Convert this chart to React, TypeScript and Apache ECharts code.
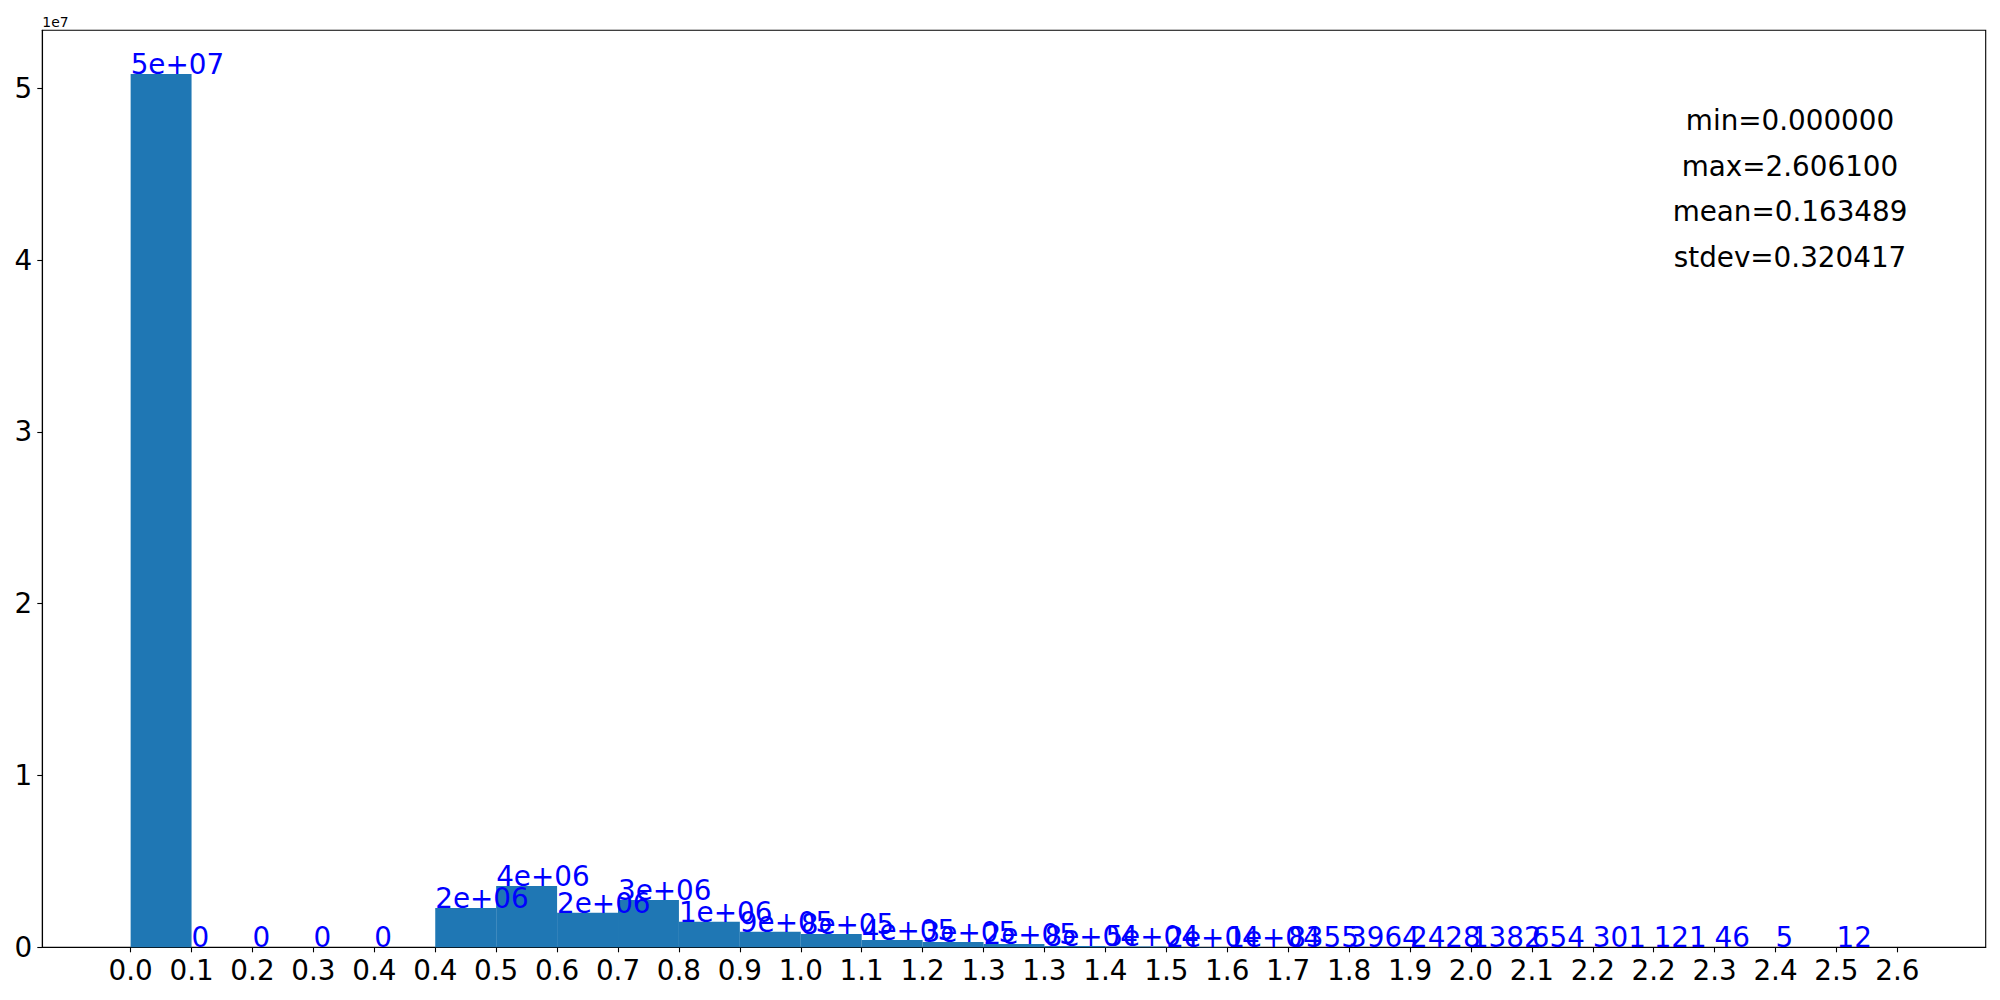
import { useEffect, useRef } from "react";
import * as echarts from "echarts";

// ---- data ----
const binCount = 29;
const dataMin = 0;
const dataMax = 2.6061;
const counts = [
  50830000, 0, 0, 0, 0, 2290000, 3570000, 2010000, 2750000, 1490000,
  900000, 770000, 430000, 310000, 190000, 80000, 50000, 20000, 10000, 8355,
  3964, 2428, 1382, 654, 301, 121, 46, 5, 12,
];
const yTicks = [0, 1e7, 2e7, 3e7, 4e7, 5e7];
const statLines = ["min=0.000000", "max=2.606100", "mean=0.163489", "stdev=0.320417"];
const offsetText = "1e7";

const FONT = "DejaVu Sans";
const FS = 27.8;

function fmtCount(v: number): string {
  if (v >= 1e4) {
    const [m, e] = v.toExponential(0).split("e");
    const sign = e[0];
    const d = e.slice(1).padStart(2, "0");
    return `${m}e${sign}${d}`;
  }
  return String(v);
}

export default function App() {
  const ref = useRef<HTMLDivElement>(null);
  useEffect(() => {
    document.body.style.margin = "0";
    if (!ref.current) return;
    const chart = echarts.init(ref.current, null, { renderer: "svg" });
    const bw = (dataMax - dataMin) / binCount;
    const edges: number[] = [];
    for (let i = 0; i <= binCount; i++) edges.push(dataMin + i * bw);
    const range = dataMax - dataMin;
    const xMin = dataMin - 0.05 * range;
    const xMax = dataMax + 0.05 * range;
    const yMax = Math.max(...counts) * 1.05;
    const data = counts.map((c, i) => [edges[i], edges[i + 1], c]);

    const statYs = [120.5, 166, 211.5, 257];

    chart.setOption({
      animation: false,
      backgroundColor: "#ffffff",
      grid: {
        left: 42.3,
        right: 14.3,
        top: 30.3,
        bottom: 52.7,
        show: true,
        borderColor: "#000",
        borderWidth: 1.1,
        backgroundColor: "transparent",
      },
      xAxis: {
        type: "value",
        min: xMin,
        max: xMax,
        splitLine: { show: false },
        axisLine: { show: true, onZero: false, lineStyle: { color: "#000", width: 1.1 } },
        axisTick: {
          show: true,
          customValues: edges,
          length: 5,
          lineStyle: { color: "#000", width: 1.1 },
        },
        axisLabel: {
          customValues: edges,
          formatter: (v: number) => v.toFixed(1),
          fontSize: FS,
          fontFamily: FONT,
          color: "#000",
          margin: 9,
        },
      },
      yAxis: {
        type: "value",
        min: 0,
        max: yMax,
        splitLine: { show: false },
        axisLine: { show: true, onZero: false, lineStyle: { color: "#000", width: 1.1 } },
        axisTick: {
          show: true,
          customValues: yTicks,
          length: 5,
          lineStyle: { color: "#000", width: 1.1 },
        },
        axisLabel: {
          customValues: yTicks,
          formatter: (v: number) => String(Math.round(v / 1e7)),
          fontSize: FS,
          fontFamily: FONT,
          color: "#000",
          margin: 10,
        },
      },
      series: [
        {
          type: "custom",
          encode: { x: [0, 1], y: 2 },
          data,
          z: 2,
          renderItem: (params: any, api: any) => {
            const p0 = api.coord([api.value(0), 0]);
            const p1 = api.coord([api.value(1), api.value(2)]);
            return {
              type: "rect",
              shape: {
                x: p0[0],
                y: p1[1],
                width: p1[0] - p0[0],
                height: p0[1] - p1[1],
              },
              style: { fill: "#1f77b4" },
            };
          },
        },
        {
          type: "custom",
          encode: { x: [0, 1], y: 2 },
          data,
          z: 5,
          renderItem: (params: any, api: any) => {
            const p = api.coord([api.value(0), api.value(2)]);
            return {
              type: "text",
              x: p[0],
              y: p[1] - 0.346 * FS,
              style: {
                text: fmtCount(counts[params.dataIndex]),
                fill: "#0000ff",
                fontSize: FS,
                fontFamily: FONT,
                align: "left",
                verticalAlign: "middle",
              },
            };
          },
        },
      ],
      graphic: [
        {
          type: "text",
          x: 42.3,
          y: 21.5,
          style: {
            text: offsetText,
            fill: "#000",
            fontSize: 13.9,
            fontFamily: FONT,
            align: "left",
            verticalAlign: "middle",
          },
        },
        ...statLines.map((t, i) => ({
          type: "text",
          x: 1790,
          y: statYs[i],
          style: {
            text: t,
            fill: "#000",
            fontSize: FS,
            fontFamily: FONT,
            align: "center",
            verticalAlign: "middle",
          },
        })),
      ],
    });
    return () => chart.dispose();
  }, []);
  return (
    <div
      ref={ref}
      style={{ position: "absolute", left: 0, top: 0, width: 2000, height: 1000 }}
    />
  );
}
